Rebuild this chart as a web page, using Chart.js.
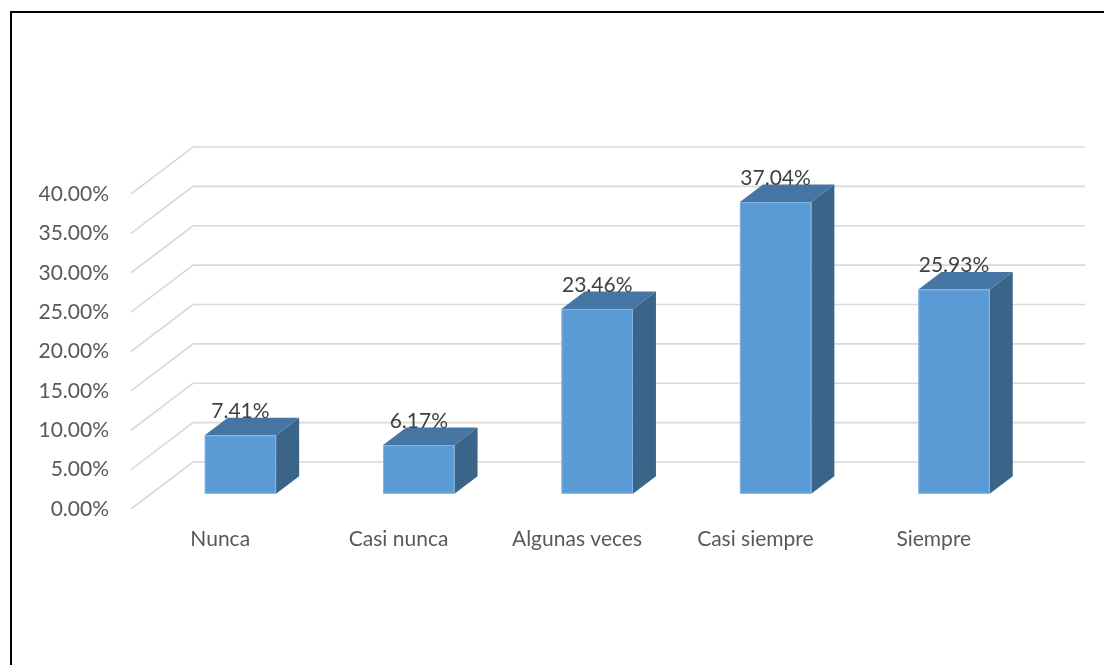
<!DOCTYPE html>
<html><head><meta charset="utf-8">
<script src="https://cdn.jsdelivr.net/npm/chart.js@4.4.1/dist/chart.umd.min.js"></script>
<style>
html,body{margin:0;padding:0;background:#fff;overflow:hidden;width:1104px;height:665px}
#frame{position:absolute;left:10px;top:11px;width:1300px;height:900px;border-left:2px solid #000;border-top:2px solid #000;box-sizing:border-box}
#wrap{position:absolute;left:0;top:0;width:1104px;height:665px}
</style></head><body>
<div id="frame"></div>
<div id="wrap"><canvas id="c" width="1104" height="665"></canvas></div>
<script>
const categories = ['Nunca', 'Casi nunca', 'Algunas veces', 'Casi siempre', 'Siempre'];
const percentages = [7.41, 6.17, 23.46, 37.04, 25.93];
const dataLabels = ['7.41%', '6.17%', '23.46%', '37.04%', '25.93%'];
const yMin = 0, yMax = 40, yStep = 5;

const FONT = 'Lato, "Open Sans", sans-serif';
const FONT_SIZE = 21;
const DEPTH_X = 62, DEPTH_Y = 47;      // full floor depth in pixels
const BAR_FRONT = 0.326, BAR_DEPTH = 0.372;

const threeD = {
  id: 'threeD',
  beforeDatasetsDraw(chart) {
    const { ctx, chartArea: a, scales: { y } } = chart;
    ctx.save();
    ctx.strokeStyle = '#d9d9d9';
    ctx.lineWidth = 1.6;
    y.ticks.forEach(t => {
      const py = y.getPixelForValue(t.value);
      ctx.beginPath();
      ctx.moveTo(a.left, py);
      ctx.lineTo(a.left + DEPTH_X, py - DEPTH_Y);
      ctx.lineTo(a.right + DEPTH_X, py - DEPTH_Y);
      ctx.stroke();
    });
    ctx.restore();
  },
  afterDatasetsDraw(chart) {
    const { ctx } = chart;
    const meta = chart.getDatasetMeta(0);
    const fx = BAR_FRONT * DEPTH_X, fy = BAR_FRONT * DEPTH_Y;
    const dx = BAR_DEPTH * DEPTH_X, dy = BAR_DEPTH * DEPTH_Y;
    ctx.save();
    meta.data.forEach((bar, i) => {
      const p = bar.getProps(['x', 'y', 'base', 'width'], true);
      const L = p.x - p.width / 2 + fx, R = p.x + p.width / 2 + fx;
      const T = p.y - fy, B = p.base - fy;
      // side face
      ctx.fillStyle = '#3a6488';
      ctx.beginPath();
      ctx.moveTo(R, T); ctx.lineTo(R + dx, T - dy); ctx.lineTo(R + dx, B - dy); ctx.lineTo(R, B);
      ctx.closePath(); ctx.fill();
      // top face
      ctx.fillStyle = '#4575a3';
      ctx.beginPath();
      ctx.moveTo(L, T); ctx.lineTo(L + dx, T - dy); ctx.lineTo(R + dx, T - dy); ctx.lineTo(R, T);
      ctx.closePath(); ctx.fill();
      // front face
      ctx.fillStyle = '#5b9bd5';
      ctx.fillRect(L, T, R - L, B - T);
      ctx.strokeStyle = 'rgba(140,185,230,0.8)';
      ctx.lineWidth = 1;
      ctx.strokeRect(L + 0.5, T + 0.5, R - L - 1, B - T - 1);
      // data label
      ctx.fillStyle = '#404040';
      ctx.font = FONT_SIZE + 'px ' + FONT;
      ctx.textAlign = 'center';
      ctx.textBaseline = 'middle';
      ctx.fillText(dataLabels[i], (L + R) / 2, T - 24);
    });
    ctx.restore();
  }
};

new Chart(document.getElementById('c'), {
  type: 'bar',
  data: {
    labels: categories,
    datasets: [{
      data: percentages,
      backgroundColor: 'rgba(0,0,0,0)',
      borderWidth: 0,
      categoryPercentage: 1,
      barPercentage: 0.4
    }]
  },
  options: {
    responsive: false,
    animation: false,
    devicePixelRatio: 1,
    events: [],
    layout: { padding: { left: 0, right: 81, top: 194, bottom: 96 } },
    plugins: { legend: { display: false }, tooltip: { enabled: false } },
    scales: {
      x: {
        grid: { display: false, drawTicks: false },
        border: { display: false },
        ticks: { color: '#595959', font: { family: FONT, size: FONT_SIZE }, padding: 18, maxRotation: 0 },
        afterFit(s) { s.height = 60; }
      },
      y: {
        min: yMin, max: yMax,
        grid: { display: false, drawTicks: false },
        border: { display: false },
        ticks: {
          stepSize: yStep,
          color: '#595959',
          font: { family: FONT, size: FONT_SIZE },
          padding: 22,
          callback: v => v.toFixed(2) + '%'
        },
        afterFit(s) { s.width = 131; }
      }
    }
  },
  plugins: [threeD]
});
</script>
</body></html>
